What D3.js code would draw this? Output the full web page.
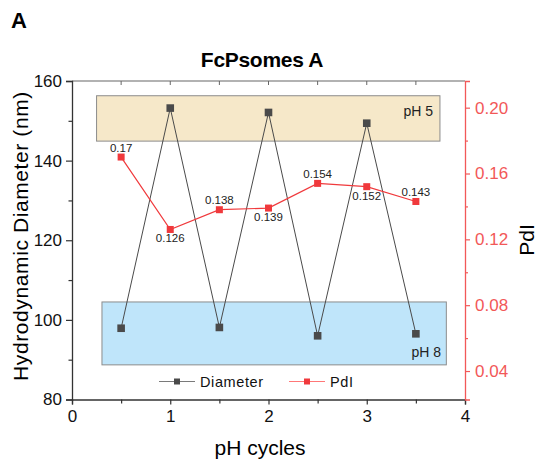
<!DOCTYPE html>
<html><head><meta charset="utf-8">
<script src="https://cdn.jsdelivr.net/npm/d3@7"></script>
<style>
html,body{margin:0;padding:0;background:#fff;}
svg{display:block;font-family:"Liberation Sans",Arial,sans-serif;}
</style></head>
<body><svg id="c" width="537" height="464"></svg>
<script>
const cycles = [0.5, 1, 1.5, 2, 2.5, 3, 3.5];
const diameter = [97.9, 153.2, 98.1, 152.1, 96.0, 149.4, 96.5];
const pdi = [0.17, 0.126, 0.138, 0.139, 0.154, 0.152, 0.143];
const pdiLabels = ["0.17", "0.126", "0.138", "0.139", "0.154", "0.152", "0.143"];
const pdiLabelPos = ["above", "below", "above", "below", "above", "below", "above"];
const xTicks = [0, 1, 2, 3, 4];
const yLeftTicks = [80, 100, 120, 140, 160];
const yRightTicks = [0.04, 0.08, 0.12, 0.16, 0.20];
const bands = [
  {label: "pH 5", x0: 0.25, x1: 3.745, y0: 144.9, y1: 156.3},
  {label: "pH 8", x0: 0.305, x1: 3.81, y0: 88.7, y1: 104.5}
];

const svg = d3.select("#c");
const L = 72, R = 465, T = 81, B = 399.5;
const x = d3.scaleLinear().domain([0, 4]).range([L, R]);
const yL = d3.scaleLinear().domain([80, 160]).range([B, T]);
const yR = d3.scaleLinear().domain([0.0227, 0.2162]).range([B, T]);
const dark = "#4a4a4a", red = "#f0393c", redAxis = "#f25858";

// bands
const bandFill = ["#f6e8c9", "#bfe5fa"];
bands.forEach((b, i) => {
  svg.append("rect")
    .attr("x", x(b.x0)).attr("y", yL(b.y1))
    .attr("width", x(b.x1) - x(b.x0)).attr("height", yL(b.y0) - yL(b.y1))
    .attr("fill", bandFill[i]).attr("stroke", "#8c8c8c").attr("stroke-width", 1);
});
svg.append("text").attr("x", 433).attr("y", 116).attr("text-anchor", "end")
  .attr("font-size", 14).attr("fill", "#222").text(bands[0].label);
svg.append("text").attr("x", 441).attr("y", 357).attr("text-anchor", "end")
  .attr("font-size", 14).attr("fill", "#222").text(bands[1].label);

// top axis (ticks inward)
svg.append("line").attr("x1", L).attr("x2", R).attr("y1", T).attr("y2", T)
  .attr("stroke", "#666").attr("stroke-width", 1.2);
d3.range(0.5, 4, 0.5).forEach(v => {
  svg.append("line").attr("x1", x(v)).attr("x2", x(v)).attr("y1", T).attr("y2", T + 4)
    .attr("stroke", "#666").attr("stroke-width", 1);
});

// bottom axis
const xAxis = d3.axisBottom(x).tickValues(xTicks).tickSize(5).tickPadding(5).tickFormat(d3.format("d"));
const gx = svg.append("g").attr("transform", `translate(0,${B})`).call(xAxis);
gx.select(".domain").attr("stroke", "#333").attr("stroke-width", 1.3);
gx.selectAll(".tick line").attr("stroke", "#333").attr("stroke-width", 1.2);
gx.selectAll("text").attr("font-size", 17).attr("fill", "#111").attr("font-family", "Liberation Sans, Arial, sans-serif");
const gxm = svg.append("g").attr("transform", `translate(0,${B})`)
  .call(d3.axisBottom(x).tickValues([0.5, 1.5, 2.5, 3.5]).tickSize(4).tickFormat(""));
gxm.select(".domain").remove();
gxm.selectAll(".tick line").attr("stroke", "#333").attr("stroke-width", 1.2);

// left axis
const yAxisL = d3.axisLeft(yL).tickValues(yLeftTicks).tickSize(6).tickPadding(4);
const gl = svg.append("g").attr("transform", `translate(${L},0)`).call(yAxisL);
gl.select(".domain").attr("stroke", "#333").attr("stroke-width", 1.3);
gl.selectAll(".tick line").attr("stroke", "#333").attr("stroke-width", 1.2);
gl.selectAll("text").attr("font-size", 17).attr("fill", "#111").attr("font-family", "Liberation Sans, Arial, sans-serif");
const glm = svg.append("g").attr("transform", `translate(${L},0)`)
  .call(d3.axisLeft(yL).tickValues([90, 110, 130, 150]).tickSize(3.5).tickFormat(""));
glm.select(".domain").remove();
glm.selectAll(".tick line").attr("stroke", "#333").attr("stroke-width", 1.2);

// right axis
const yAxisR = d3.axisRight(yR).tickValues(yRightTicks).tickSize(5).tickPadding(5).tickFormat(d3.format(".2f"));
const gr = svg.append("g").attr("transform", `translate(${R},0)`).call(yAxisR);
gr.select(".domain").attr("stroke", redAxis).attr("stroke-width", 1.3);
gr.selectAll(".tick line").attr("stroke", redAxis).attr("stroke-width", 1.2);
gr.selectAll("text").attr("font-size", 17).attr("fill", redAxis).attr("font-family", "Liberation Sans, Arial, sans-serif");
const grm = svg.append("g").attr("transform", `translate(${R},0)`)
  .call(d3.axisRight(yR).tickValues([0.06, 0.10, 0.14, 0.18]).tickSize(3).tickFormat(""));
grm.select(".domain").remove();
grm.selectAll(".tick line").attr("stroke", redAxis).attr("stroke-width", 1.2);

// diameter series
const dData = cycles.map((c, i) => [c, diameter[i]]);
svg.append("path").datum(dData)
  .attr("d", d3.line().x(d => x(d[0])).y(d => yL(d[1])))
  .attr("fill", "none").attr("stroke", dark).attr("stroke-width", 1);
svg.selectAll(".dm").data(dData).enter().append("rect")
  .attr("x", d => x(d[0]) - 3.8).attr("y", d => yL(d[1]) - 3.8)
  .attr("width", 7.6).attr("height", 7.6).attr("fill", dark);

// PdI series
const pData = cycles.map((c, i) => [c, pdi[i]]);
svg.append("path").datum(pData)
  .attr("d", d3.line().x(d => x(d[0])).y(d => yR(d[1])))
  .attr("fill", "none").attr("stroke", red).attr("stroke-width", 1.2);
svg.selectAll(".pm").data(pData).enter().append("rect")
  .attr("x", d => x(d[0]) - 3.5).attr("y", d => yR(d[1]) - 3.5)
  .attr("width", 7).attr("height", 7).attr("fill", red);
svg.selectAll(".pl").data(pData).enter().append("text")
  .attr("x", d => x(d[0]))
  .attr("y", (d, i) => pdiLabelPos[i] === "above" ? yR(d[1]) - 5.5 : yR(d[1]) + 13)
  .attr("text-anchor", "middle").attr("font-size", 11.5).attr("fill", "#222")
  .text((d, i) => pdiLabels[i]);

// legend
const leg = [{name: "Diameter", c: "#7a7a7a", m: dark, x: 159}, {name: "PdI", c: "#f77", m: red, x: 289}];
leg.forEach(l => {
  svg.append("line").attr("x1", l.x).attr("x2", l.x + 36).attr("y1", 381.5).attr("y2", 381.5)
    .attr("stroke", l.c).attr("stroke-width", 1);
  svg.append("rect").attr("x", l.x + 18 - 3).attr("y", 381.5 - 3).attr("width", 6).attr("height", 6).attr("fill", l.m);
  svg.append("text").attr("x", l.x + 41).attr("y", 386.5).attr("font-size", 14.5)
    .attr("letter-spacing", 0.6).attr("fill", "#111").text(l.name);
});

// titles & labels
svg.append("text").attr("x", 11).attr("y", 28).attr("font-size", 22).attr("font-weight", "bold").attr("fill", "#000").text("A");
svg.append("text").attr("x", 262).attr("y", 66.7).attr("text-anchor", "middle").attr("font-size", 21)
  .attr("font-weight", "bold").attr("letter-spacing", -0.3).attr("fill", "#000").text("FcPsomes A");
svg.append("text").attr("x", 260).attr("y", 455).attr("text-anchor", "middle").attr("font-size", 21)
  .attr("fill", "#000").text("pH cycles");
svg.append("text").attr("transform", "translate(28,236) rotate(-90)").attr("text-anchor", "middle")
  .attr("font-size", 21).attr("letter-spacing", 0.6).attr("fill", "#000").text("Hydrodynamic Diameter (nm)");
svg.append("text").attr("transform", "translate(534,240) rotate(-90)").attr("text-anchor", "middle")
  .attr("font-size", 21).attr("fill", "#000").text("PdI");
</script></body></html>
